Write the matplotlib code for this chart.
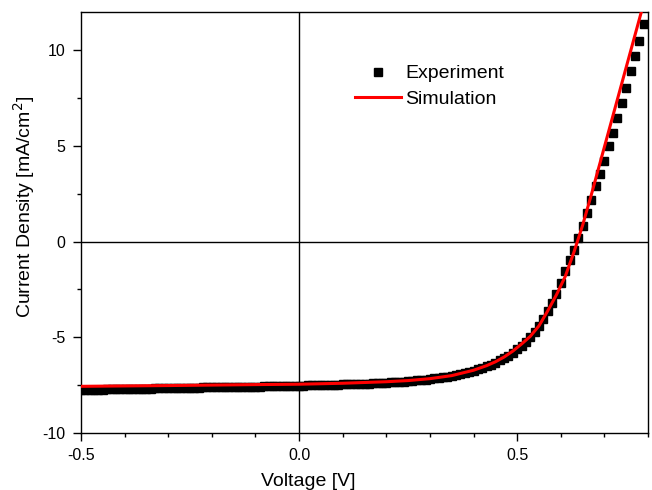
#!/usr/bin/env python3

import numpy as np
import matplotlib.pyplot as plt
from matplotlib.ticker import MultipleLocator, FuncFormatter

plt.rcParams['font.family'] = ['Liberation Sans', 'DejaVu Sans']

# measured J-V sweep, 10 mV steps from -0.50 V to 0.79 V
v_exp = np.round(np.arange(-0.50, 0.795, 0.01), 2)
j_exp = [
    -7.75, -7.75, -7.74, -7.74, -7.73, -7.73, -7.72, -7.72, -7.71, -7.71,
    -7.70, -7.70, -7.69, -7.69, -7.69, -7.68, -7.68, -7.67, -7.67, -7.66,
    -7.66, -7.65, -7.65, -7.64, -7.64, -7.64, -7.63, -7.63, -7.62, -7.62,
    -7.61, -7.61, -7.60, -7.60, -7.60, -7.59, -7.59, -7.58, -7.58, -7.57,
    -7.57, -7.57, -7.56, -7.56, -7.55, -7.55, -7.55, -7.54, -7.54, -7.53,
    -7.53, -7.52, -7.51, -7.51, -7.50, -7.49, -7.49, -7.48, -7.47, -7.47,
    -7.46, -7.45, -7.45, -7.44, -7.43, -7.42, -7.42, -7.41, -7.40, -7.39,
    -7.38, -7.36, -7.35, -7.33, -7.31, -7.29, -7.27, -7.25, -7.23, -7.21,
    -7.18, -7.15, -7.12, -7.09, -7.05, -7.01, -6.97, -6.92, -6.87, -6.81,
    -6.75, -6.68, -6.60, -6.51, -6.42, -6.32, -6.21, -6.09, -5.95, -5.80,
    -5.63, -5.44, -5.22, -4.98, -4.70, -4.39, -4.04, -3.65, -3.21, -2.72,
    -2.17, -1.55, -0.94, -0.42, 0.19, 0.80, 1.50, 2.20, 2.90, 3.51,
    4.20, 4.99, 5.69, 6.48, 7.26, 8.05, 8.92, 9.70, 10.49, 11.36,
]

# simulated curve
v_sim = [-0.50, -0.30, -0.10, 0.00, 0.10, 0.20, 0.25, 0.30, 0.35, 0.40,
         0.43, 0.45, 0.47, 0.49, 0.51, 0.53, 0.55, 0.57, 0.59, 0.61,
         0.63, 0.65, 0.67, 0.70, 0.73, 0.76, 0.79]
j_sim = [-7.56, -7.52, -7.47, -7.45, -7.40, -7.32, -7.26, -7.16, -7.00, -6.72,
         -6.48, -6.28, -6.03, -5.72, -5.35, -4.95, -4.40, -3.62, -2.78, -1.83,
         -0.56, 0.85, 2.45, 4.95, 7.45, 9.95, 12.45]

fig = plt.figure(figsize=(6.52, 4.90), dpi=100)
ax = fig.add_axes([0.1242, 0.1163, 0.8697, 0.8592])

ax.axhline(0, color='black', linewidth=1.0, zorder=1)
ax.axvline(0, color='black', linewidth=1.0, zorder=1)

ax.plot(v_exp, j_exp, linestyle='none', marker='s', markersize=6,
        color='black', label='Experiment', zorder=2)
ax.plot(v_sim, j_sim, color='red', linewidth=2.2, label='Simulation', zorder=3)

ax.set_xlim(-0.5, 0.8)
ax.set_ylim(-10, 12)

ax.xaxis.set_major_locator(MultipleLocator(0.5))
ax.xaxis.set_minor_locator(MultipleLocator(0.1))
ax.yaxis.set_major_locator(MultipleLocator(5))
ax.yaxis.set_minor_locator(MultipleLocator(2.5))
ax.xaxis.set_major_formatter(FuncFormatter(lambda v, p: f"{v:.1f}"))
ax.yaxis.set_major_formatter(FuncFormatter(lambda v, p: f"{v:.0f}"))

ax.tick_params(which='both', direction='out', top=False, right=False,
               labelsize=11.5, width=1.0)
ax.tick_params(which='major', length=6, pad=5)
ax.tick_params(which='minor', length=3)
for s in ax.spines.values():
    s.set_linewidth(1.0)

ax.set_xlabel("Voltage [V]", fontsize=14)
ax.set_ylabel("Current Density [mA/cm$^2$]", fontsize=14)
ax.xaxis.set_label_coords(0.40, -0.095)
ax.yaxis.set_label_coords(-0.078, 0.537)

ax.legend(loc='upper left', bbox_to_anchor=(0.469, 0.893), frameon=False,
          fontsize=14, handlelength=2.4, handletextpad=0.2, labelspacing=0.4,
          borderaxespad=0)

fig.savefig('out.png', dpi=100)
